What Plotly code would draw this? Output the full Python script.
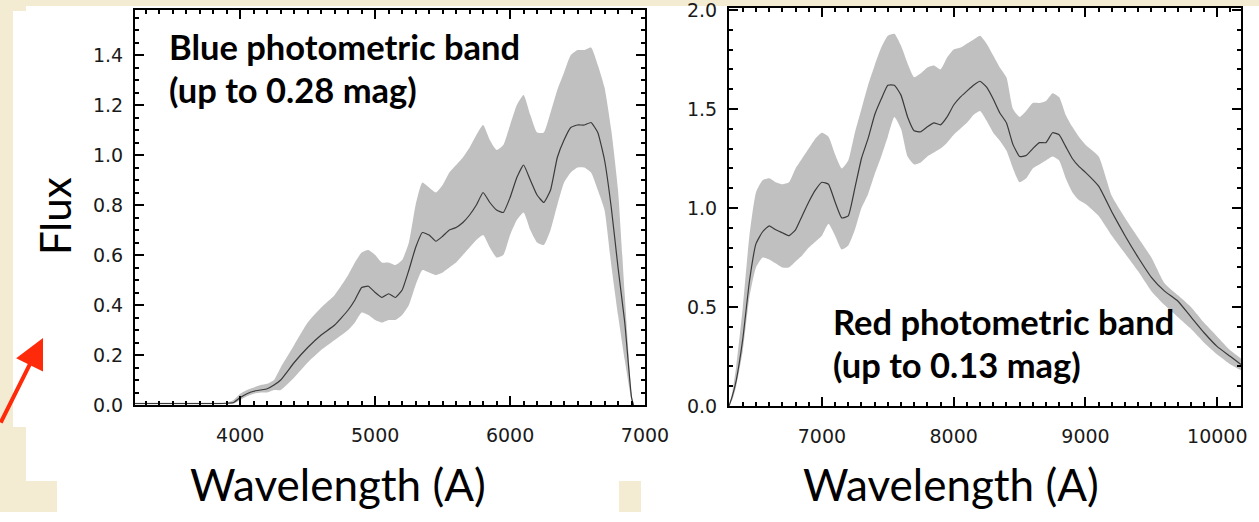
import plotly.graph_objects as go

W, H = 1259, 512

# ---- Blue band spectrum (wavelength in A, flux) ----
blue_wave = [3220, 3500, 3800, 3900, 3950, 4000, 4050, 4100, 4150, 4200, 4250, 4300,
             4400, 4500, 4600, 4700, 4800, 4850, 4900, 4950, 5000, 5050, 5100, 5150,
             5200, 5250, 5300, 5350, 5400, 5450, 5500, 5550, 5600, 5650, 5700, 5750,
             5800, 5850, 5900, 5950, 6000, 6050, 6100, 6150, 6200, 6250, 6300, 6350,
             6400, 6450, 6500, 6550, 6600, 6650, 6700, 6750, 6800, 6850, 6900, 6915]
blue_mean = [0.006, 0.006, 0.006, 0.007, 0.01, 0.03, 0.045, 0.055, 0.06, 0.065, 0.08, 0.10,
             0.17, 0.23, 0.28, 0.32, 0.38, 0.42, 0.47, 0.475, 0.45, 0.43, 0.445, 0.43,
             0.46, 0.54, 0.63, 0.69, 0.68, 0.655, 0.675, 0.70, 0.71, 0.73, 0.76, 0.80,
             0.85, 0.81, 0.78, 0.77, 0.83, 0.91, 0.96, 0.90, 0.84, 0.81, 0.86, 0.99,
             1.06, 1.11, 1.12, 1.12, 1.13, 1.09, 0.98, 0.79, 0.55, 0.33, 0.03, 0.0]
blue_upper = [0.009, 0.009, 0.009, 0.01, 0.02, 0.045, 0.06, 0.07, 0.08, 0.085, 0.10, 0.15,
              0.24, 0.33, 0.39, 0.44, 0.52, 0.57, 0.61, 0.62, 0.60, 0.57, 0.57, 0.56,
              0.58, 0.65, 0.80, 0.89, 0.87, 0.85, 0.88, 0.93, 0.96, 0.99, 1.03, 1.08,
              1.12, 1.06, 1.02, 1.04, 1.12, 1.20, 1.24, 1.16, 1.09, 1.09, 1.17, 1.26,
              1.33, 1.40, 1.42, 1.42, 1.43, 1.36, 1.27, 1.10, 0.86, 0.44, 0.05, 0.0]
blue_lower = [0.003, 0.003, 0.003, 0.004, 0.005, 0.02, 0.035, 0.045, 0.05, 0.05, 0.06, 0.06,
              0.11, 0.17, 0.22, 0.26, 0.30, 0.33, 0.37, 0.36, 0.34, 0.33, 0.34, 0.34,
              0.36, 0.40, 0.48, 0.54, 0.53, 0.52, 0.53, 0.55, 0.57, 0.60, 0.63, 0.66,
              0.68, 0.63, 0.59, 0.60, 0.68, 0.74, 0.77, 0.70, 0.65, 0.64, 0.70, 0.80,
              0.89, 0.93, 0.95, 0.95, 0.93, 0.86, 0.78, 0.56, 0.36, 0.18, 0.02, 0.0]

# ---- Red band spectrum ----
red_wave = [6295, 6320, 6350, 6400, 6450, 6500, 6550, 6600, 6650, 6700, 6750, 6800,
            6850, 6900, 6950, 7000, 7050, 7100, 7150, 7200, 7250, 7300, 7350, 7400,
            7450, 7500, 7550, 7600, 7650, 7700, 7750, 7800, 7850, 7900, 7950, 8000,
            8050, 8100, 8150, 8200, 8250, 8300, 8350, 8400, 8450, 8500, 8550, 8600,
            8650, 8700, 8750, 8800, 8850, 8900, 8950, 9000, 9100, 9200, 9300, 9400,
            9500, 9600, 9700, 9800, 9900, 10000, 10100, 10180]
red_mean = [0.0, 0.05, 0.13, 0.34, 0.63, 0.82, 0.88, 0.91, 0.89, 0.875, 0.86, 0.89,
            0.96, 1.03, 1.09, 1.13, 1.12, 1.03, 0.95, 0.96, 1.10, 1.25, 1.35, 1.47,
            1.55, 1.62, 1.62, 1.57, 1.46, 1.39, 1.385, 1.41, 1.43, 1.42, 1.46, 1.52,
            1.56, 1.59, 1.62, 1.64, 1.61, 1.55, 1.48, 1.43, 1.32, 1.26, 1.265, 1.30,
            1.33, 1.33, 1.38, 1.37, 1.31, 1.25, 1.21, 1.18, 1.11, 0.98, 0.86, 0.75,
            0.65, 0.58, 0.53, 0.45, 0.37, 0.30, 0.25, 0.21]
red_upper = [0.0, 0.07, 0.20, 0.50, 0.86, 1.08, 1.14, 1.15, 1.13, 1.12, 1.13, 1.20,
             1.25, 1.30, 1.35, 1.38, 1.36, 1.27, 1.20, 1.24, 1.38, 1.50, 1.62, 1.72,
             1.81, 1.87, 1.88, 1.82, 1.73, 1.66, 1.68, 1.71, 1.72, 1.70, 1.76, 1.80,
             1.81, 1.83, 1.85, 1.87, 1.83, 1.77, 1.71, 1.66, 1.50, 1.46, 1.49, 1.53,
             1.53, 1.54, 1.58, 1.56, 1.47, 1.41, 1.36, 1.32, 1.26, 1.06, 0.95, 0.85,
             0.75, 0.62, 0.56, 0.50, 0.42, 0.35, 0.28, 0.24]
red_lower = [0.0, 0.03, 0.10, 0.28, 0.55, 0.70, 0.75, 0.74, 0.72, 0.70, 0.70, 0.73,
             0.76, 0.80, 0.83, 0.86, 0.92, 0.86, 0.79, 0.81, 0.89, 1.00, 1.07, 1.17,
             1.26, 1.36, 1.46, 1.40, 1.26, 1.22, 1.23, 1.26, 1.28, 1.30, 1.33, 1.37,
             1.40, 1.43, 1.47, 1.49, 1.44, 1.38, 1.34, 1.29, 1.20, 1.13, 1.15, 1.20,
             1.22, 1.24, 1.26, 1.24, 1.15, 1.08, 1.04, 1.02, 0.96, 0.86, 0.77, 0.68,
             0.58, 0.51, 0.45, 0.39, 0.32, 0.26, 0.21, 0.18]

blue_xticks = [4000, 5000, 6000, 7000]
blue_yticks = [0.0, 0.2, 0.4, 0.6, 0.8, 1.0, 1.2, 1.4]
red_xticks = [7000, 8000, 9000, 10000]
red_yticks = [0.0, 0.5, 1.0, 1.5, 2.0]

BAND = "rgb(192,192,192)"
LINE = "#3a3a3a"
PAPER = "#F3ECD2"


def px(x):
    return x / W


def py(y):
    return 1 - y / H


fig = go.Figure()


def add_spectrum(wave, lower, upper, mean, xa, ya):
    edge = dict(width=0, color=BAND, shape="spline", smoothing=0.5)
    fig.add_trace(go.Scatter(x=wave, y=lower, mode="lines", line=edge,
                             xaxis=xa, yaxis=ya, showlegend=False, hoverinfo="skip"))
    fig.add_trace(go.Scatter(x=wave, y=upper, mode="lines", line=edge,
                             fill="tonexty", fillcolor=BAND,
                             xaxis=xa, yaxis=ya, showlegend=False, hoverinfo="skip"))
    fig.add_trace(go.Scatter(x=wave, y=mean, mode="lines",
                             line=dict(width=1.2, color=LINE, shape="spline", smoothing=0.4),
                             xaxis=xa, yaxis=ya, showlegend=False))


add_spectrum(blue_wave, blue_lower, blue_upper, blue_mean, "x", "y")
add_spectrum(red_wave, red_lower, red_upper, red_mean, "x2", "y2")

tick_font = dict(family="DejaVu Sans", size=19, color="#1a1a1a")
axis_common = dict(showline=True, linecolor="black", linewidth=2, mirror="ticks",
                   ticks="inside", ticklen=9, tickwidth=2, tickcolor="black",
                   showgrid=False, zeroline=False, tickfont=tick_font,
                   ticklabeloverflow="allow")


def minor(step):
    return dict(dtick=step, ticklen=4, tickwidth=2, tickcolor="black", ticks="inside")


fig.update_layout(
    width=W, height=H, autosize=False,
    margin=dict(l=0, r=0, t=0, b=0, autoexpand=False),
    paper_bgcolor=PAPER,
    plot_bgcolor="white",
    xaxis=dict(domain=[px(135), px(645)], range=[3220, 7000], anchor="y",
               tickvals=blue_xticks, ticktext=[str(v) for v in blue_xticks],
               minor=minor(100), ticklabelstandoff=12, **axis_common),
    yaxis=dict(domain=[py(405), py(10)], range=[0, 1.58], anchor="x",
               tickvals=blue_yticks, ticktext=[f"{v:.1f}" for v in blue_yticks],
               minor=minor(0.05), ticklabelstandoff=6, **axis_common),
    xaxis2=dict(domain=[px(729), px(1241)], range=[6295, 10180], anchor="y2",
                tickvals=red_xticks, ticktext=[str(v) for v in red_xticks],
                minor=minor(100), ticklabelstandoff=12, **axis_common),
    yaxis2=dict(domain=[py(406), py(8)], range=[0, 2.01], anchor="x2",
                tickvals=red_yticks, ticktext=[f"{v:.1f}" for v in red_yticks],
                minor=minor(0.1), ticklabelstandoff=6, **axis_common),
)

# white slide panels behind the two plots
white_rects = [
    (13, 11, 26, 427),
    (26, 6, 1259, 481),
    (57, 481, 619, 512),
    (641, 481, 1259, 512),
]
for x0, y0, x1, y1 in white_rects:
    fig.add_shape(type="rect", xref="paper", yref="paper",
                  x0=px(x0), x1=px(x1), y0=py(y1), y1=py(y0),
                  fillcolor="white", line=dict(width=0), layer="below")

title_font = dict(family="Lato", size=44, color="black")
flux_font = dict(family="Lato", size=42, color="black")
label_font = dict(family="Lato", size=34.5, color="black")

annotations = [
    dict(text="Flux", x=px(55), y=py(216), textangle=-90, font=flux_font),
    dict(text="Wavelength (A)", x=px(338), y=py(484), font=title_font),
    dict(text="Wavelength (A)", x=px(951), y=py(484), font=title_font),
    dict(text="<b>Blue photometric band</b>", x=px(167), y=py(46), xanchor="left", font=label_font),
    dict(text="<b>(up to 0.28 mag)</b>", x=px(167), y=py(89), xanchor="left", font=label_font),
    dict(text="<b>Red photometric band</b>", x=px(831), y=py(321), xanchor="left", font=label_font),
    dict(text="<b>(up to 0.13 mag)</b>", x=px(831), y=py(364), xanchor="left", font=label_font),
]
for a in annotations:
    a.setdefault("xanchor", "center")
    fig.add_annotation(xref="paper", yref="paper", yanchor="middle", showarrow=False, **a)

# red pointer arrow at the left edge
fig.add_annotation(xref="paper", yref="paper", x=px(43), y=py(338), text="",
                   showarrow=True, arrowhead=2, arrowsize=1.5, arrowwidth=4,
                   arrowcolor="#FF2A0A", ax=-52, ay=86, standoff=0)

fig.write_html("out.html")
